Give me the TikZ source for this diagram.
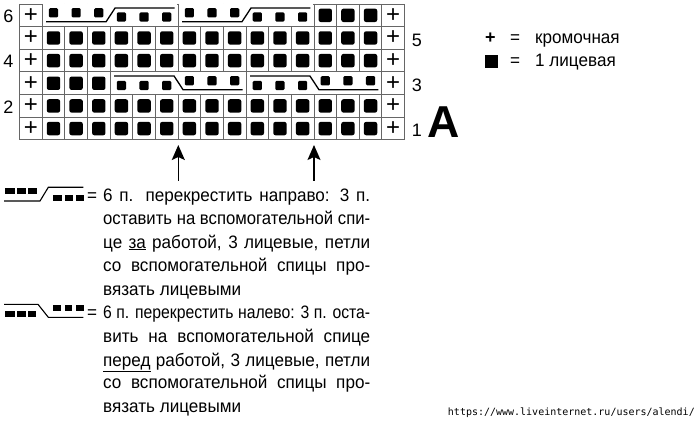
\documentclass[tikz,border=0pt]{standalone}
\usepackage{fontspec}
\usepackage{graphicx}
\usetikzlibrary{arrows.meta}
\newfontfamily\plainfont{Liberation Sans}
\newfontfamily\narrowfont[FakeStretch=0.95]{Liberation Sans}
\newfontfamily\wmfont{DejaVu Sans Mono}
\begin{document}
\begin{tikzpicture}[x=1pt,y=-1pt,
  gridline/.style={draw=black!60,line width=0.9pt},
  cablerule/.style={draw=black,line width=1.3pt},
  plusmark/.style={inner sep=0pt,font=\plainfont\fontsize{24}{24}\selectfont},
  bigsq/.style={fill=black,rounded corners=2.2pt},
  smallsq/.style={fill=black,rounded corners=1.2pt},
  textline/.style={anchor=base west,inner sep=0pt,font=\narrowfont\fontsize{18}{20}\selectfont},
  numlabel/.style={inner sep=0pt,font=\plainfont\fontsize{18}{18}\selectfont},
  legsq/.style={fill=black},
  legrule/.style={draw=black,line width=1.1pt},
  uparrow/.style={draw=black,line width=1.6pt,-{Stealth[length=15pt,width=13pt,inset=3pt]}}
]
\useasboundingbox (0,0) rectangle (699,422);
\def\ox{19.5}\def\oy{4}\def\cw{22.65}
% grid
\foreach \i in {0,...,6}{\draw[gridline] (\ox,{\oy+\i*\cw}) -- ({\ox+17*\cw},{\oy+\i*\cw});}
\foreach \j in {0,...,17}{\draw[gridline] ({\ox+\j*\cw},\oy) -- ({\ox+\j*\cw},{\oy+6*\cw});}
% erase inside of cable cells
\foreach \c in {1,7}{\fill[white] ({\ox+\c*\cw+0.6},{\oy+0.5}) rectangle ({\ox+(\c+6)*\cw-0.6},{\oy+\cw-0.5});}
\foreach \c in {4,10}{\fill[white] ({\ox+\c*\cw+0.6},{\oy+3*\cw+0.5}) rectangle ({\ox+(\c+6)*\cw-0.6},{\oy+4*\cw-0.5});}
% plus marks
\foreach \r in {0,...,5}{
  \node[plusmark] (pl\r) at ({\ox+0.5*\cw},{\oy+(\r+0.5)*\cw}) {+};
  \node[plusmark] (pr\r) at ({\ox+16.5*\cw},{\oy+(\r+0.5)*\cw}) {+};
}
% big stitches
\newcommand{\bigst}[2]{\path[bigsq] ({\ox+(#1+0.5)*\cw-6.7},{\oy+(#2+0.5)*\cw-6.7}) rectangle ++(13.4,13.4);}
\foreach \r in {1,2,4,5}{\foreach \c in {1,...,15}{\bigst{\c}{\r}}}
\foreach \c in {13,14,15}{\bigst{\c}{0}}
\foreach \c in {1,2,3}{\bigst{\c}{3}}
% small stitches
\newcommand{\smst}[3]{\path[smallsq] ({\ox+(#1+0.5)*\cw-4.6},{#3-4.6}) rectangle ++(9.2,9.2);}
\foreach \s in {0,6}{
  \foreach \k in {1,2,3}{\smst{\s+\k}{0}{12.8}}
  \foreach \k in {4,5,6}{\smst{\s+\k}{0}{17}}
  \draw[cablerule] ({\ox+(\s+1)*\cw+4},21.7) -- ({\ox+(\s+4)*\cw-4},21.7) -- ({\ox+(\s+4)*\cw+5},8) -- ({\ox+(\s+7)*\cw-3.5},8);
}
\foreach \s in {3,9}{
  \foreach \k in {1,2,3}{\smst{\s+\k}{3}{85.5}}
  \foreach \k in {4,5,6}{\smst{\s+\k}{3}{80.8}}
  \draw[cablerule] ({\ox+(\s+1)*\cw+4},76) -- ({\ox+(\s+4)*\cw-4},76) -- ({\ox+(\s+4)*\cw+5},89.7) -- ({\ox+(\s+7)*\cw-3.5},89.7);
}
% row numbers
\node[numlabel] (n6) at (8.3,16.6) {6};
\node[numlabel] (n4) at (8.3,61.7) {4};
\node[numlabel] (n2) at (8.3,107.7) {2};
\node[numlabel] (n5) at (417,40) {5};
\node[numlabel] (n3) at (417,85) {3};
\node[numlabel] (n1) at (417,130) {1};
\node[anchor=base,inner sep=0pt,font=\plainfont\bfseries\fontsize{44.7}{45}\selectfont] (bigA) at (443.5,138) {A};
% arrows
\coordinate (a1s) at (178.3,181);\coordinate (a1e) at (178.3,145);
\coordinate (a2s) at (314,181);\coordinate (a2e) at (314,145);
\draw[uparrow] (a1s) -- (a1e);
\draw[uparrow] (a2s) -- (a2e);
% legend top right
\node[anchor=base,inner sep=0pt,font=\plainfont\bfseries\fontsize{18}{18}\selectfont] (lp) at (490.5,44) {+};
\node[textline] (le1) at (510,44) {=};
\node[textline] (lt1) at (535,44) {кромочная};
\path[legsq] (485,55) rectangle (498.3,67.7);
\node[textline] (le2) at (510,66.7) {=};
\node[textline] (lt2) at (535,66.7) {1 лицевая};
% cable key 1
\foreach \x/\w in {5/10,16.7/9,27.7/9}{\path[legsq] (\x,188.3) rectangle ++(\w,5.5);}
\foreach \x/\w in {53/9,65/7.5,76/7.5}{\path[legsq] (\x,195) rectangle ++(\w,5.8);}
\draw[legrule] (4,201) -- (40,201) -- (48.3,187.3) -- (83.3,187.3);
\node[textline] (eq1) at (87,201.7) {=};
\newcommand{\jl}[3]{\node[textline] at (103,#2) {\makebox[#1pt][s]{#3}};}
\newcommand{\sq}[3]{\node[textline] at (103,#2) {\resizebox{#1pt}{\height}{#3}};}
\jl{267}{201.7}{6 п. перекрестить направо: 3 п.}
\sq{267}{225}{оставить на вспомогательной спи-}
\jl{267}{248}{це \underline{за} работой, 3 лицевые, петли}
\jl{267}{272}{со вспомогательной спицы про-}
\node[textline] (t1e) at (103,295) {вязать лицевыми};
% cable key 2
\foreach \x/\w in {5/10,17/9,28/8}{\path[legsq] (\x,311.3) rectangle ++(\w,6);}
\foreach \x/\w in {52.7/8,65/7,76/7.5}{\path[legsq] (\x,305) rectangle ++(\w,6);}
\draw[legrule] (4,304.3) -- (38,304.3) -- (48.3,317.3) -- (83.3,317.3);
\node[textline] (eq2) at (87,318) {=};
\sq{267}{318}{6 п. перекрестить налево: 3 п. оста-}
\jl{267}{342}{вить на вспомогательной спице}
\jl{267}{366}{\underline{перед} работой, 3 лицевые, петли}
\jl{267}{388}{со вспомогательной спицы про-}
\node[textline] (t2e) at (103,412) {вязать лицевыми};
% watermark
\node[anchor=base east,inner sep=0pt,font=\wmfont\fontsize{10}{12}\selectfont] (wm) at (695,415) {https://www.liveinternet.ru/users/alendi/};
\end{tikzpicture}
\end{document}
